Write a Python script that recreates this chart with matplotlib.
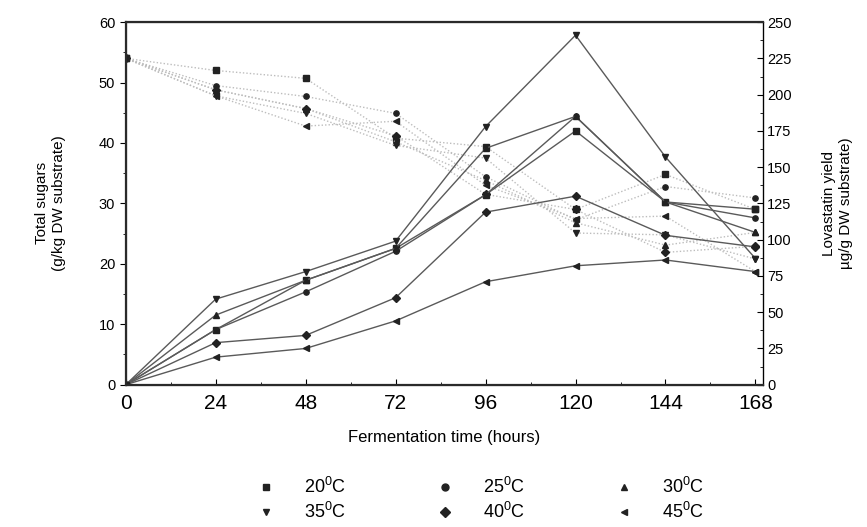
import matplotlib.pyplot as plt
from matplotlib.lines import Line2D
from matplotlib.ticker import MultipleLocator

plt.rcParams['font.family'] = ['Liberation Sans', 'DejaVu Sans']
plt.rcParams['mathtext.fontset'] = 'custom'
plt.rcParams['mathtext.rm'] = 'Liberation Sans'

hours = [0, 24, 48, 72, 96, 120, 144, 168]
temps = ['20', '25', '30', '35', '40', '45']
markers = ['s', 'o', '^', 'v', 'D', '<']

# total sugars, g/kg DW substrate (left axis)
sugar_20 = [54, 52.0, 50.7, 40.8, 39.4, 29.0, 34.8, 29.0]
sugar_25 = [54, 49.5, 47.7, 44.9, 34.4, 27.3, 32.8, 30.9]
sugar_30 = [54, 48.8, 45.7, 40.2, 33.8, 26.8, 23.1, 25.2]
sugar_35 = [54, 47.8, 44.9, 39.6, 37.5, 25.1, 24.8, 20.8]
sugar_40 = [54, 48.8, 45.7, 41.2, 31.5, 29.0, 21.9, 22.9]
sugar_45 = [54, 47.8, 42.8, 43.6, 33.0, 27.5, 27.9, 18.7]

# lovastatin yield, ug/g DW substrate (right axis)
lova_20 = [0, 38, 72, 94, 131, 175, 126, 121]
lova_25 = [0, 38, 64, 92, 131, 185, 126, 115]
lova_30 = [0, 48, 72, 94, 163, 185, 126, 105]
lova_35 = [0, 59, 78, 99, 178, 241, 157, 87]
lova_40 = [0, 29, 34, 60, 119, 130, 103, 95]
lova_45 = [0, 19, 25, 44, 71, 82, 86, 78]

sugars = [sugar_20, sugar_25, sugar_30, sugar_35, sugar_40, sugar_45]
lovas = [lova_20, lova_25, lova_30, lova_35, lova_40, lova_45]

fig = plt.figure(figsize=(8.67, 5.27), dpi=100)
ax = fig.add_axes([0.145, 0.270, 0.735, 0.688])
ax2 = ax.twinx()

for s, m in zip(sugars, markers):
    ax.plot(hours, s, linestyle=(0, (1, 1.5)), color='#bdbdbd', lw=1.0,
            marker=m, ms=3.8, mfc='#222222', mec='#222222')
for l, m in zip(lovas, markers):
    ax2.plot(hours, l, '-', color='#5a5a5a', lw=1.0,
             marker=m, ms=3.8, mfc='#222222', mec='#222222')

ax.set_xlim(0, 170)
ax.set_ylim(0, 60)
ax2.set_ylim(0, 250)
ax.set_xticks(hours)
ax.xaxis.set_minor_locator(MultipleLocator(12))
ax.yaxis.set_major_locator(MultipleLocator(10))
ax.yaxis.set_minor_locator(MultipleLocator(5))
ax2.yaxis.set_major_locator(MultipleLocator(25))
ax2.yaxis.set_minor_locator(MultipleLocator(12.5))

ax.tick_params(axis='x', direction='in', labelsize=15, length=4, pad=7)
ax.tick_params(axis='x', which='minor', direction='in', length=2.5)
ax.tick_params(axis='y', direction='out', labelsize=10.5, length=4)
ax.tick_params(axis='y', which='minor', direction='out', length=2.5)
ax2.tick_params(axis='y', direction='in', labelsize=10.5, length=4, pad=3)
ax2.tick_params(axis='y', which='minor', direction='in', length=2.5)

for side in ['top', 'left', 'bottom']:
    ax2.spines[side].set_linewidth(1.6)
    ax2.spines[side].set_color('#2a2a2a')
ax2.spines['right'].set_linewidth(0.9)

ax.set_xlabel('Fermentation time (hours)', fontsize=12, labelpad=12)
ax.set_ylabel('Total sugars\n(g/kg DW substrate)', fontsize=11, labelpad=24)
ax2.set_ylabel('Lovastatin yield\n\u00b5g/g DW substrate)', fontsize=11, labelpad=22)

handles = [Line2D([], [], linestyle='none', marker=m, ms=5,
                  mfc='#222222', mec='#222222') for m in markers]
labels = [t + r'$^{0}$C' for t in temps]
order = [0, 3, 1, 4, 2, 5]
fig.legend([handles[i] for i in order], [labels[i] for i in order],
           ncol=3, loc='center', bbox_to_anchor=(0.553, 0.052),
           frameon=False, fontsize=13, columnspacing=4.9,
           handletextpad=1.5, labelspacing=0.25, handlelength=1.2)

fig.savefig('out.png', dpi=100)
